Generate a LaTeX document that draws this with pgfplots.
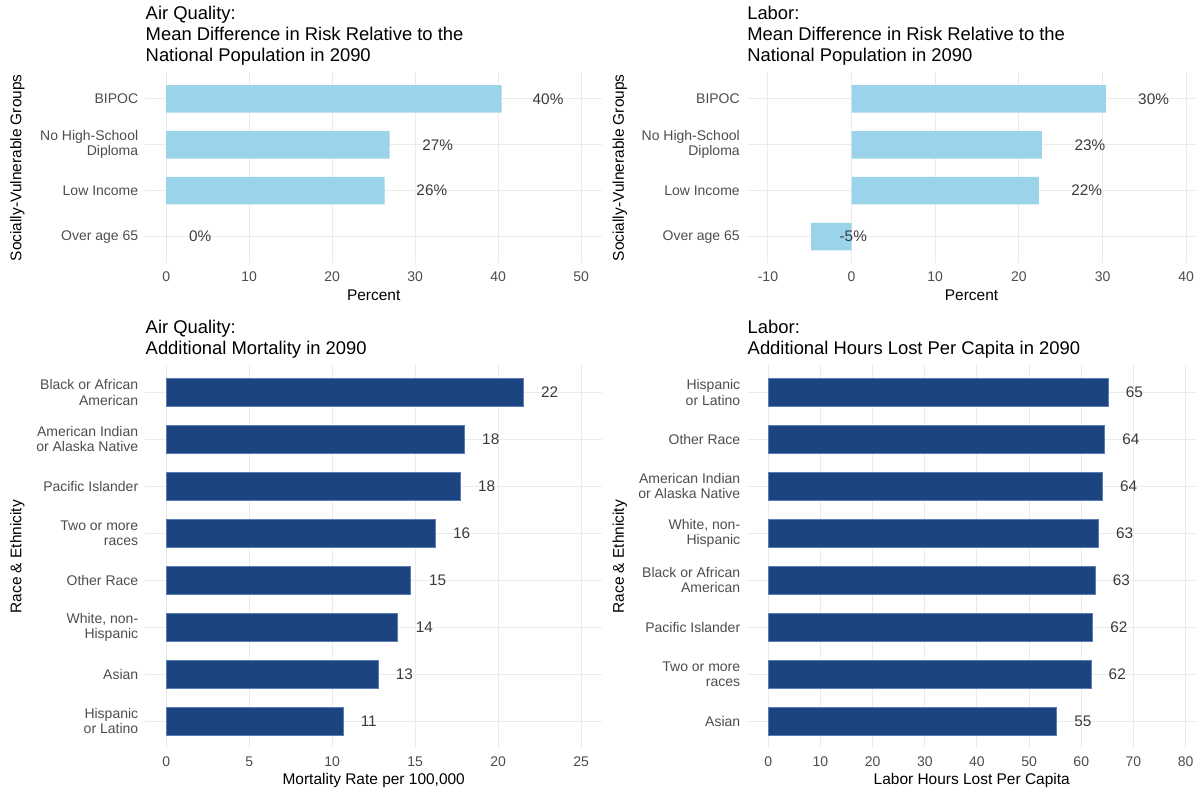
\documentclass[border=0pt]{standalone}
\usepackage{pgfplots}
\pgfplotsset{compat=1.18}
\usepackage{fontspec}
\setmainfont{Liberation Sans}

\definecolor{lightbar}{HTML}{9BD3EA}
\definecolor{darkbar}{HTML}{1C4481}
\definecolor{darkedge}{HTML}{5A7DB3}
\definecolor{gridc}{HTML}{EBEBEB}
\definecolor{tickc}{HTML}{4D4D4D}
\definecolor{labc}{HTML}{3A3A3A}

\newcommand\titlefont{\fontsize{13.8}{15.4}\selectfont}
\newcommand\tickfont{\fontsize{10.5}{11.3}\selectfont}
\newcommand\labfont{\fontsize{11.6}{13}\selectfont}
\newcommand\valfont{\fontsize{11.5}{13}\selectfont}

\pgfplotsset{
  panel/.style={
    scale only axis,
    axis line style={draw=none},
    major tick length=0pt,
    xmajorgrids, ymajorgrids,
    grid style={color=gridc, line width=0.8pt},
    /pgf/number format/assume math mode=true,
    tick label style={font=\tickfont, text=tickc, inner sep=0pt},
    xticklabel shift=6.5pt,
    yticklabel shift=5.25pt,
    yticklabel style={align=right},
    every axis title/.style={at={(axis description cs:0,1)}, anchor=south west,
      align=left, inner sep=0pt, yshift=5.5pt, font=\titlefont},
    every axis x label/.style={at={(axis description cs:0.5,0)}, anchor=center,
      yshift=-24pt, font=\labfont},
    clip=false,
  },
  vals/.style={draw=none, mark=none, nodes near coords, point meta=explicit symbolic,
    nodes near coords style={anchor=center, font=\valfont, text=labc, inner sep=0pt}},
}

\begin{document}
\begin{tikzpicture}
\useasboundingbox (0,0) rectangle (897pt,592.5pt);

% top left: air quality, socially vulnerable groups
\begin{axis}[panel, at={(109.1pt,395.25pt)}, anchor=south west,
    width=342.4pt, height=142.9pt,
    xmin=-2.5, xmax=52.5, ymin=0.425, ymax=4.575,
    xtick={0,10,20,30,40,50}, ytick={1,2,3,4},
    yticklabels={Over age 65, Low Income, {No High-School\\Diploma}, BIPOC},
    title={Air Quality:\\Mean Difference in Risk Relative to the\\National Population in 2090},
    xlabel={Percent},
    every axis y label/.style={at={(axis description cs:-0.2804,0.5)}, rotate=90, anchor=center, font=\labfont},
    ylabel={Socially-Vulnerable Groups}]
  \addplot[xbar, bar width=0.6, fill=lightbar, draw=none]
    coordinates {(40.4,4) (26.9,3) (26.3,2) (0,1)};
  \addplot[vals] coordinates {(46.0,4) [40\%] (32.7,3) [27\%] (32.0,2) [26\%] (4.1,1) [0\%]};
\end{axis}

% top right: labor, socially vulnerable groups
\begin{axis}[panel, at={(560.25pt,395.25pt)}, anchor=south west,
    width=336.75pt, height=142.9pt,
    xmin=-12.5, xmax=41.17, ymin=0.425, ymax=4.575,
    xtick={-10,0,10,20,30,40}, ytick={1,2,3,4},
    yticklabels={Over age 65, Low Income, {No High-School\\Diploma}, BIPOC},
    title={Labor:\\Mean Difference in Risk Relative to the\\National Population in 2090},
    xlabel={Percent},
    every axis y label/.style={at={(axis description cs:-0.2829,0.5)}, rotate=90, anchor=center, font=\labfont},
    ylabel={Socially-Vulnerable Groups}]
  \addplot[xbar, bar width=0.6, fill=lightbar, draw=none]
    coordinates {(30.4,4) (22.75,3) (22.4,2) (-4.85,1)};
  \addplot[vals] coordinates {(36.1,4) [30\%] (28.5,3) [23\%] (28.1,2) [22\%] (0.2,1) [-5\%]};
\end{axis}

% bottom left: air quality mortality by race
\begin{axis}[panel, at={(109.1pt,31.5pt)}, anchor=south west,
    width=342.4pt, height=286.9pt,
    xmin=-1.25, xmax=26.25, ymin=0.43, ymax=8.575,
    xtick={0,5,10,15,20,25}, ytick={1,...,8},
    yticklabels={{Hispanic\\or Latino}, Asian, {White, non-\\Hispanic}, Other Race,
      {Two or more\\races}, Pacific Islander, {American Indian\\or Alaska Native},
      {Black or African\\American}},
    title={Air Quality:\\Additional Mortality in 2090},
    xlabel={Mortality Rate per 100,000},
    every axis y label/.style={at={(axis description cs:-0.2804,0.5)}, rotate=90, anchor=center, font=\labfont},
    ylabel={Race \& Ethnicity}]
  \addplot[xbar, bar width=0.6, fill=darkbar, draw=darkedge, line width=0.4pt]
    coordinates {(21.5,8) (17.95,7) (17.7,6) (16.2,5) (14.7,4) (13.9,3) (12.75,2) (10.65,1)};
  \addplot[vals] coordinates {(23.1,8) [22] (19.55,7) [18] (19.3,6) [18] (17.8,5) [16]
    (16.35,4) [15] (15.55,3) [14] (14.35,2) [13] (12.2,1) [11]};
\end{axis}

% bottom right: labor hours lost by race
\begin{axis}[panel, at={(560.6pt,31.5pt)}, anchor=south west,
    width=336.4pt, height=286.9pt,
    xmin=-4, xmax=82, ymin=0.43, ymax=8.575,
    xtick={0,10,20,30,40,50,60,70,80}, ytick={1,...,8},
    yticklabels={Asian, {Two or more\\races}, Pacific Islander, {Black or African\\American},
      {White, non-\\Hispanic}, {American Indian\\or Alaska Native}, Other Race,
      {Hispanic\\or Latino}},
    title={Labor:\\Additional Hours Lost Per Capita in 2090},
    xlabel={Labor Hours Lost Per Capita},
    every axis y label/.style={at={(axis description cs:-0.2843,0.5)}, rotate=90, anchor=center, font=\labfont},
    ylabel={Race \& Ethnicity}]
  \addplot[xbar, bar width=0.6, fill=darkbar, draw=darkedge, line width=0.4pt]
    coordinates {(65.2,8) (64.4,7) (64.1,6) (63.2,5) (62.7,4) (62.2,3) (61.9,2) (55.3,1)};
  \addplot[vals] coordinates {(70.2,8) [65] (69.5,7) [64] (69.1,6) [64] (68.3,5) [63]
    (67.7,4) [63] (67.2,3) [62] (66.9,2) [62] (60.3,1) [55]};
\end{axis}
\end{tikzpicture}
\end{document}
